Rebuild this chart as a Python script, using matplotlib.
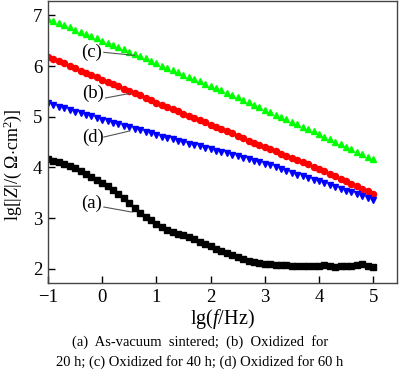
import numpy as np
import matplotlib
matplotlib.use('Agg')
import matplotlib.pyplot as plt

plt.rcParams['font.family'] = ['Liberation Serif', 'DejaVu Serif']
plt.rcParams['mathtext.fontset'] = 'custom'
plt.rcParams['mathtext.rm'] = 'Liberation Serif'
plt.rcParams['mathtext.it'] = 'Liberation Serif:italic'

# lg(f/Hz), 10 points per decade
lg_f = np.linspace(-1, 5, 61)

# (a) as-vacuum sintered
z_a = [4.16, 4.13, 4.10, 4.07, 4.03, 3.98, 3.93, 3.88, 3.82, 3.76, 3.70,
       3.63, 3.55, 3.47, 3.39, 3.30, 3.21, 3.11, 3.03, 2.96, 2.89,
       2.83, 2.77, 2.72, 2.69, 2.66, 2.63, 2.59, 2.54, 2.49, 2.45,
       2.40, 2.35, 2.31, 2.27, 2.23, 2.19, 2.16, 2.13, 2.11, 2.10,
       2.09, 2.08, 2.08, 2.07, 2.06, 2.05, 2.05, 2.05, 2.06, 2.06,
       2.07, 2.05, 2.04, 2.05, 2.06, 2.06, 2.08, 2.10, 2.06, 2.03]
# (b) oxidized 20 h
z_b = [6.18, 6.14, 6.09, 6.05, 6.00, 5.96, 5.91, 5.87, 5.82, 5.78, 5.73,
       5.69, 5.64, 5.60, 5.55, 5.51, 5.46, 5.42, 5.37, 5.33, 5.28,
       5.24, 5.19, 5.15, 5.11, 5.06, 5.02, 4.97, 4.93, 4.89, 4.84,
       4.80, 4.75, 4.71, 4.67, 4.62, 4.58, 4.53, 4.49, 4.45, 4.40,
       4.36, 4.32, 4.27, 4.23, 4.19, 4.14, 4.10, 4.06, 4.01, 3.97,
       3.93, 3.88, 3.83, 3.78, 3.73, 3.68, 3.63, 3.58, 3.53, 3.48]
# (c) oxidized 40 h
z_c = [6.92, 6.88, 6.84, 6.80, 6.76, 6.72, 6.67, 6.63, 6.59, 6.55, 6.50,
       6.46, 6.42, 6.37, 6.33, 6.28, 6.24, 6.19, 6.15, 6.10, 6.06,
       6.01, 5.97, 5.92, 5.88, 5.83, 5.79, 5.74, 5.70, 5.65, 5.61,
       5.56, 5.52, 5.47, 5.43, 5.38, 5.33, 5.29, 5.24, 5.19, 5.14,
       5.09, 5.04, 5.00, 4.95, 4.90, 4.85, 4.80, 4.76, 4.71, 4.66,
       4.61, 4.56, 4.51, 4.46, 4.41, 4.36, 4.31, 4.26, 4.21, 4.16]
# (d) oxidized 60 h
z_d = [5.27, 5.24, 5.20, 5.17, 5.14, 5.10, 5.07, 5.04, 5.01, 4.97, 4.94,
       4.91, 4.88, 4.85, 4.82, 4.79, 4.76, 4.73, 4.70, 4.67, 4.64,
       4.61, 4.58, 4.56, 4.53, 4.50, 4.47, 4.44, 4.42, 4.39, 4.36,
       4.33, 4.30, 4.28, 4.25, 4.22, 4.19, 4.16, 4.13, 4.10, 4.07,
       4.04, 4.00, 3.97, 3.93, 3.90, 3.86, 3.83, 3.80, 3.76, 3.73,
       3.69, 3.65, 3.62, 3.58, 3.54, 3.51, 3.47, 3.43, 3.40, 3.36]

labels = ['(a)', '(b)', '(c)', '(d)']
label_xy = [(-0.19, 3.30), (-0.17, 5.46), (-0.19, 6.27), (-0.17, 4.60)]
pointer = [((0.03, 3.22), (0.55, 3.12)),
           ((0.06, 5.37), (0.51, 5.46)),
           ((0.03, 6.27), (0.60, 6.21)),
           ((0.03, 4.60), (0.51, 4.72))]

fig = plt.figure(figsize=(4.0, 3.72), dpi=100)
ax = fig.add_axes([0.12, 0.239, 0.8725, 0.758])

ax.plot(lg_f, z_a, color='black', marker='s', ms=4.2, lw=1.4)
ax.plot(lg_f, z_b, color='#ff0000', marker='o', ms=4.4, ls='none')
ax.plot(lg_f, z_c, color='#00ff00', marker='^', ms=4.8, ls='none')
ax.plot(lg_f, z_d, color='#0000ff', marker='v', ms=4.8, ls='none')

for lab, xy, (p0, p1) in zip(labels, label_xy, pointer):
    ax.text(xy[0], xy[1], lab, fontsize=13.5, ha='center', va='center')
    ax.plot([p0[0], p1[0]], [p0[1], p1[1]], color='#555555', lw=0.8)

ax.set_xlim(-1.0, 5.44)
ax.set_ylim(1.72, 7.28)
ax.set_xticks([-1, 0, 1, 2, 3, 4, 5])
ax.set_xticklabels(['\u22121', '0', '1', '2', '3', '4', '5'])
ax.set_yticks([2, 3, 4, 5, 6, 7])
ax.tick_params(direction='in', length=5, width=1, labelsize=13.5, pad=4,
               top=False, right=False)
for s in ax.spines.values():
    s.set_color('#444444')
    s.set_linewidth(1.0)

ax.set_xlabel(r'lg($\mathit{f}$/Hz)', fontsize=14.5, labelpad=1)
ax.set_ylabel(r'lg[|$\mathit{Z}$|/( $\Omega$$\cdot$cm$^2$)]', fontsize=13)
ax.yaxis.set_label_coords(-0.068, 0.42)

fig.text(0.5, 0.081, '(a)  As-vacuum  sintered;  (b)  Oxidized  for',
         fontsize=10.5, ha='center', va='center')
fig.text(0.5, 0.027, '20 h; (c) Oxidized for 40 h; (d) Oxidized for 60 h',
         fontsize=10.5, ha='center', va='center')

fig.savefig('out.png', dpi=100)
